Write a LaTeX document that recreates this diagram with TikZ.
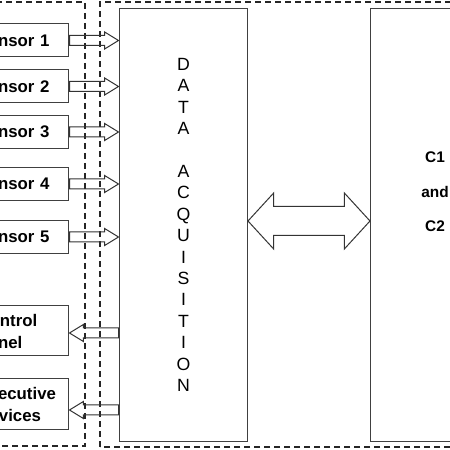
\documentclass[tikz,border=0pt]{standalone}
\usepackage{fontspec}
\setmainfont{Liberation Sans}
\usetikzlibrary{shapes.arrows,calc}
\tikzset{
	unit/.style={draw=black!75,line width=1pt,minimum height=33pt,minimum width=110pt,text width=72pt,inner xsep=19pt,align=left,anchor=east,font=\fontsize{16.8}{22}\selectfont\bfseries},
	block/.style={draw=black!75,line width=1pt,anchor=south west,minimum height=433pt},
	zone/.style={draw=black!85,line width=1.5pt,dash pattern=on 6pt off 4pt},
	inarrow/.style={draw=black!80,line width=1pt,single arrow,inner sep=4.5pt,single arrow head extend=3.5pt,single arrow tip angle=63,minimum height=49pt,anchor=tail},
	outarrow/.style={inarrow,shape border rotate=180},
	biarrow/.style={draw=black!80,line width=1pt,double arrow,inner sep=14pt,double arrow head extend=13.5pt,double arrow tip angle=95,minimum height=122pt}
}
\begin{document}
\begin{tikzpicture}[x=1pt,y=1pt]
	\useasboundingbox (0,0) rectangle (450,450);
	\draw[zone] (-30,4) rectangle (85,448);
	\draw[zone] (100,3) rectangle (480,448);
	\node[unit] (s1) at (69,409.5) {Sensor 1};
	\node[unit] (s2) at (69,363.5) {Sensor 2};
	\node[unit] (s3) at (69,318) {Sensor 3};
	\node[unit] (s4) at (69,266) {Sensor 4};
	\node[unit] (s5) at (69,213) {Sensor 5};
	\node[unit,minimum height=50pt] (cp) at (69,119) {Control\\Panel};
	\node[unit,minimum height=51pt] (ed) at (69,45.5) {Executive\\Devices};
	\node[block,minimum width=128pt,align=center,font=\fontsize{17.7}{21.4}\selectfont] (da) at (119,8)
		{D\\A\\T\\A\\[21.4pt]A\\C\\Q\\U\\I\\S\\I\\T\\I\\O\\N};
	\node[block,minimum width=110pt] (cc) at (370,8) {};
	\node[align=center,font=\fontsize{15.4}{34.5}\selectfont\bfseries] (ctext) at (435,258) {C1\\and\\C2};
	\foreach \s in {s1,s2,s3,s4,s5}
		\path (\s.east) -- (\s.east -| da.west) node[pos=0,inarrow] {};
	\path ($(cp.east -| da.west)+(0,-2)$) -- ($(cp.east)+(0,-2)$) node[pos=0,outarrow] {};
	\path ($(ed.east -| da.west)+(0,-5.5)$) -- ($(ed.east)+(0,-5.5)$) node[pos=0,outarrow] {};
	\path (da.east |- 0,229) -- (cc.west |- 0,229) node[midway,biarrow] {};
\end{tikzpicture}
\end{document}
